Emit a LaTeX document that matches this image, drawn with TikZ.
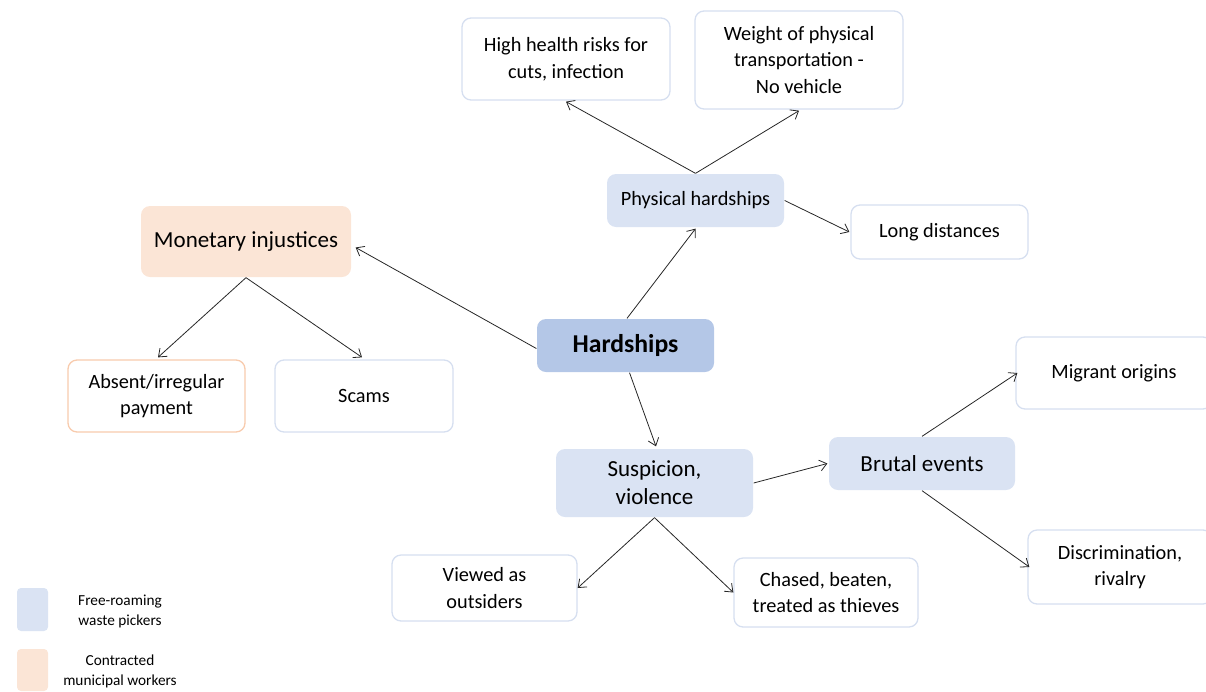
\documentclass[tikz,border=0pt]{standalone}
\usepackage{fontspec}
\setmainfont{Carlito}
\usetikzlibrary{arrows.meta}
\definecolor{blueF}{HTML}{DAE3F3}
\definecolor{blueD}{HTML}{B4C7E7}
\definecolor{orangeF}{HTML}{FBE5D6}
\definecolor{orangeB}{HTML}{F8CBAD}
\definecolor{lineB}{HTML}{D6DFF0}
\tikzset{
  box/.style={rectangle, rounded corners=9pt, align=center, inner sep=0pt, line width=1.3pt, font=\fontsize{20.3}{26.5}\selectfont, text=black},
  wbox/.style={box, draw=lineB, fill=white},
  bbox/.style={box, fill=blueF},
  obox/.style={box, fill=orangeF},
  conn/.style={line width=0.8pt, black!85, -{Straight Barb[length=7pt,width=11pt,line width=0.8pt]}},
  legsq/.style={rectangle, rounded corners=4pt, inner sep=0pt, minimum width=31pt},
  legtxt/.style={align=center, font=\fontsize{15.3}{20}\selectfont}
}
\begin{document}
\begin{tikzpicture}[x=1pt,y=-1pt]
\useasboundingbox (0,0) rectangle (1206,691);
\clip (0,0) rectangle (1206,691);
\node[wbox, minimum width=208pt, minimum height=82pt] (hh) at (566,59) {High health risks for\\cuts, infection};
\node[wbox, minimum width=208pt, minimum height=98pt] (wt) at (799,60) {Weight of physical\\transportation -\\No vehicle};
\node[bbox, minimum width=177pt, minimum height=53pt] (ph) at (695.5,200.5) {Physical hardships};
\node[wbox, minimum width=177pt, minimum height=54pt] (ld) at (939.5,232) {Long distances};
\node[obox, minimum width=210pt, minimum height=71pt, font=\fontsize{23}{28}\selectfont] (mon) at (246,241.5) {Monetary injustices};
\node[box, fill=blueD, minimum width=177pt, minimum height=53pt, font=\fontsize{25.7}{30}\selectfont\bfseries] (hard) at (625.5,345.5) {Hardships};
\node[box, draw=orangeB, fill=white, minimum width=177pt, minimum height=72pt] (abs) at (156.5,396) {Absent/irregular\\payment};
\node[wbox, minimum width=178pt, minimum height=72pt] (scam) at (364,396) {Scams};
\node[wbox, minimum width=196pt, minimum height=72pt] (mig) at (1114,373) {Migrant origins};
\node[bbox, minimum width=186pt, minimum height=53pt, font=\fontsize{23}{28}\selectfont] (brut) at (922,463.5) {Brutal events};
\node[bbox, minimum width=197pt, minimum height=68pt, font=\fontsize{23}{28}\selectfont] (sus) at (654.5,483) {Suspicion,\\violence};
\node[wbox, minimum width=184pt, minimum height=74pt] (disc) at (1120,567) {Discrimination,\\rivalry};
\node[wbox, minimum width=185pt, minimum height=66pt] (view) at (484.5,588) {Viewed as\\outsiders};
\node[wbox, minimum width=184pt, minimum height=69pt] (chas) at (826,592.5) {Chased, beaten,\\treated as thieves};
\node[legsq, fill=blueF, minimum height=43pt] (lg1) at (32.5,609.5) {};
\node[legsq, fill=orangeF, minimum height=42pt] (lg2) at (32.5,670) {};
\node[legtxt] (lt1) at (120,611) {Free-roaming\\waste pickers};
\node[legtxt] (lt2) at (120,671) {Contracted\\municipal workers};

\draw[conn] ([xshift=1.5pt]hard.north) -- ([yshift=-1pt]ph.south);
\draw[conn] (ph.north) -- ([yshift=-1pt]hh.south);
\draw[conn] (ph.north) -- ([yshift=-1pt]wt.south);
\draw[conn] (ph.east) -- ([xshift=-1pt]ld.west);
\draw[conn] ([yshift=-3pt]hard.west) -- ([xshift=4pt,yshift=-6pt]mon.east);
\draw[conn] (mon.south) -- ([xshift=1.5pt,yshift=2pt]abs.north);
\draw[conn] (mon.south) -- ([xshift=-2pt,yshift=2pt]scam.north);
\draw[conn] ([xshift=4pt]hard.south) -- ([xshift=1.5pt,yshift=2pt]sus.north);
\draw[conn] (sus.east) -- ([xshift=-1pt]brut.west);
\draw[conn] (brut.north) -- ([xshift=2pt]mig.west);
\draw[conn] (brut.south) -- ([xshift=2pt]disc.west);
\draw[conn] (sus.south) -- (view.east);
\draw[conn] (sus.south) -- (chas.west);
\end{tikzpicture}
\end{document}
